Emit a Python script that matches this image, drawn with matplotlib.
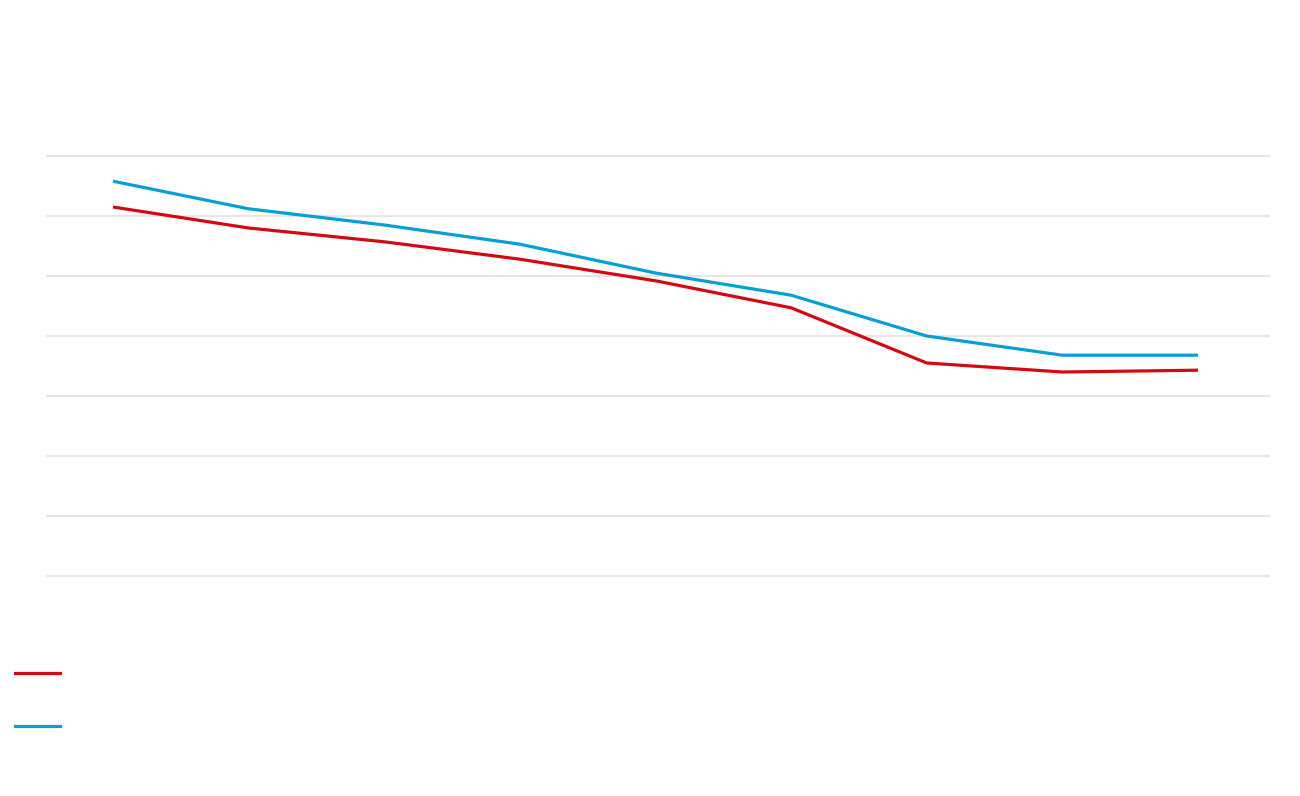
import matplotlib
matplotlib.use("Agg")
import matplotlib.pyplot as plt
from matplotlib.lines import Line2D

categories = ["1", "2", "3", "4", "5", "6", "7", "8", "9"]
series_red = [61.5, 58.0, 55.7, 52.8, 49.2, 44.7, 35.5, 34.0, 34.3]
series_blue = [65.8, 61.2, 58.5, 55.3, 50.5, 46.8, 40.0, 36.8, 36.8]
y_ticks = [0, 10, 20, 30, 40, 50, 60, 70]

RED = "#d20a11"
BLUE = "#079fd6"
GRID = "#e6e6e6"

fig = plt.figure(figsize=(13, 7.96), dpi=100)
ax = fig.add_axes([47 / 1300, 1 - 576 / 796, 1222 / 1300, 420 / 796])

x = list(range(len(categories)))
ax.plot(x, series_red, color=RED, lw=2.3, solid_capstyle="butt", zorder=3)
ax.plot(x, series_blue, color=BLUE, lw=2.3, solid_capstyle="butt", zorder=3)

ax.set_xlim(-0.4866, len(categories) - 1 + 0.5235)
ax.set_ylim(y_ticks[0], y_ticks[-1])
ax.set_yticks(y_ticks)
ax.set_xticks(x)
ax.grid(axis="y", color=GRID, lw=1.6, zorder=0)
for gl in ax.get_ygridlines():
    gl.set_clip_on(False)
ax.tick_params(length=0, labelleft=False, labelbottom=False)
for s in ax.spines.values():
    s.set_visible(False)
ax.set_axisbelow(True)

handles = [Line2D([], [], color=RED, lw=2.3), Line2D([], [], color=BLUE, lw=2.3)]
fig.legend(handles, ["", ""], loc="upper left",
           bbox_to_anchor=(15 / 1300, 1 - 667 / 796),
           frameon=False, fontsize=10, handlelength=3.25,
           borderpad=0, borderaxespad=0, handletextpad=0,
           labelspacing=2.8)

fig.savefig("out.png", dpi=100, facecolor="white")
